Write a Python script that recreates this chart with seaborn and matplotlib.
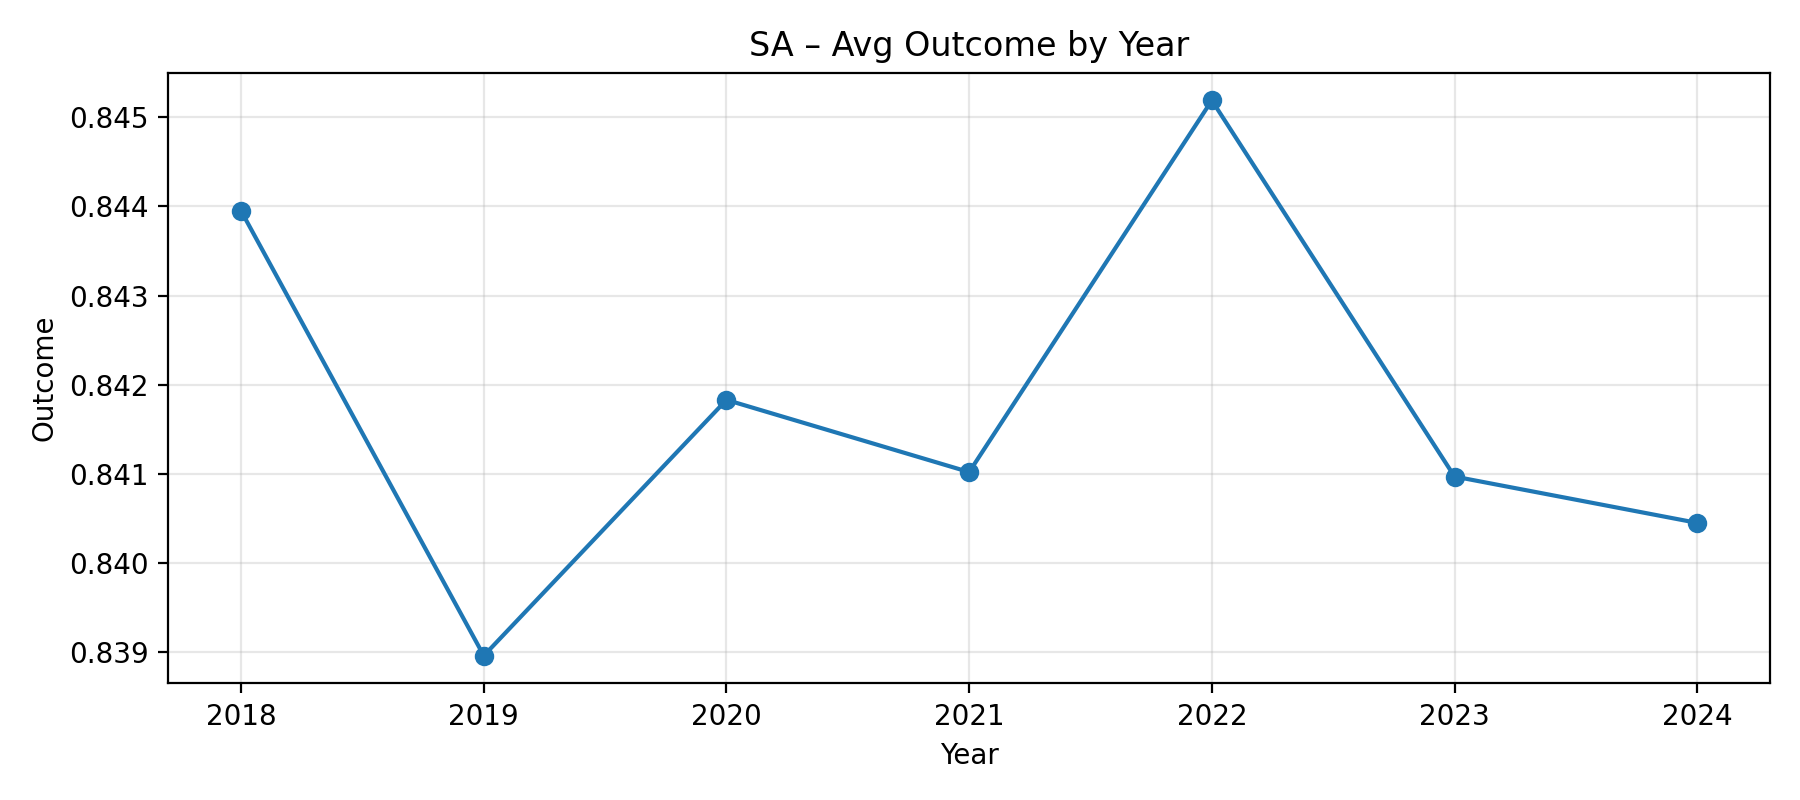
import pandas as pd
import matplotlib
matplotlib.use("Agg")
import matplotlib.pyplot as plt
import seaborn as sns

# data
years = [2018, 2019, 2020, 2021, 2022, 2023, 2024]
outcome = [0.84395, 0.83896, 0.84183, 0.84102, 0.84519, 0.84097, 0.84045]

data = pd.DataFrame({'Year': years, 'Outcome': outcome})

fig, ax = plt.subplots(figsize=(9, 4), dpi=200)
sns.lineplot(data=data, x='Year', y='Outcome', marker='o', markersize=7,
             markeredgewidth=0, color='#1f77b4', linewidth=1.5, ax=ax)
ax.set_title('SA – Avg Outcome by Year')
ax.set_xticks(years)
ax.grid(True, alpha=0.3)
fig.tight_layout()
fig.savefig('out.png')
